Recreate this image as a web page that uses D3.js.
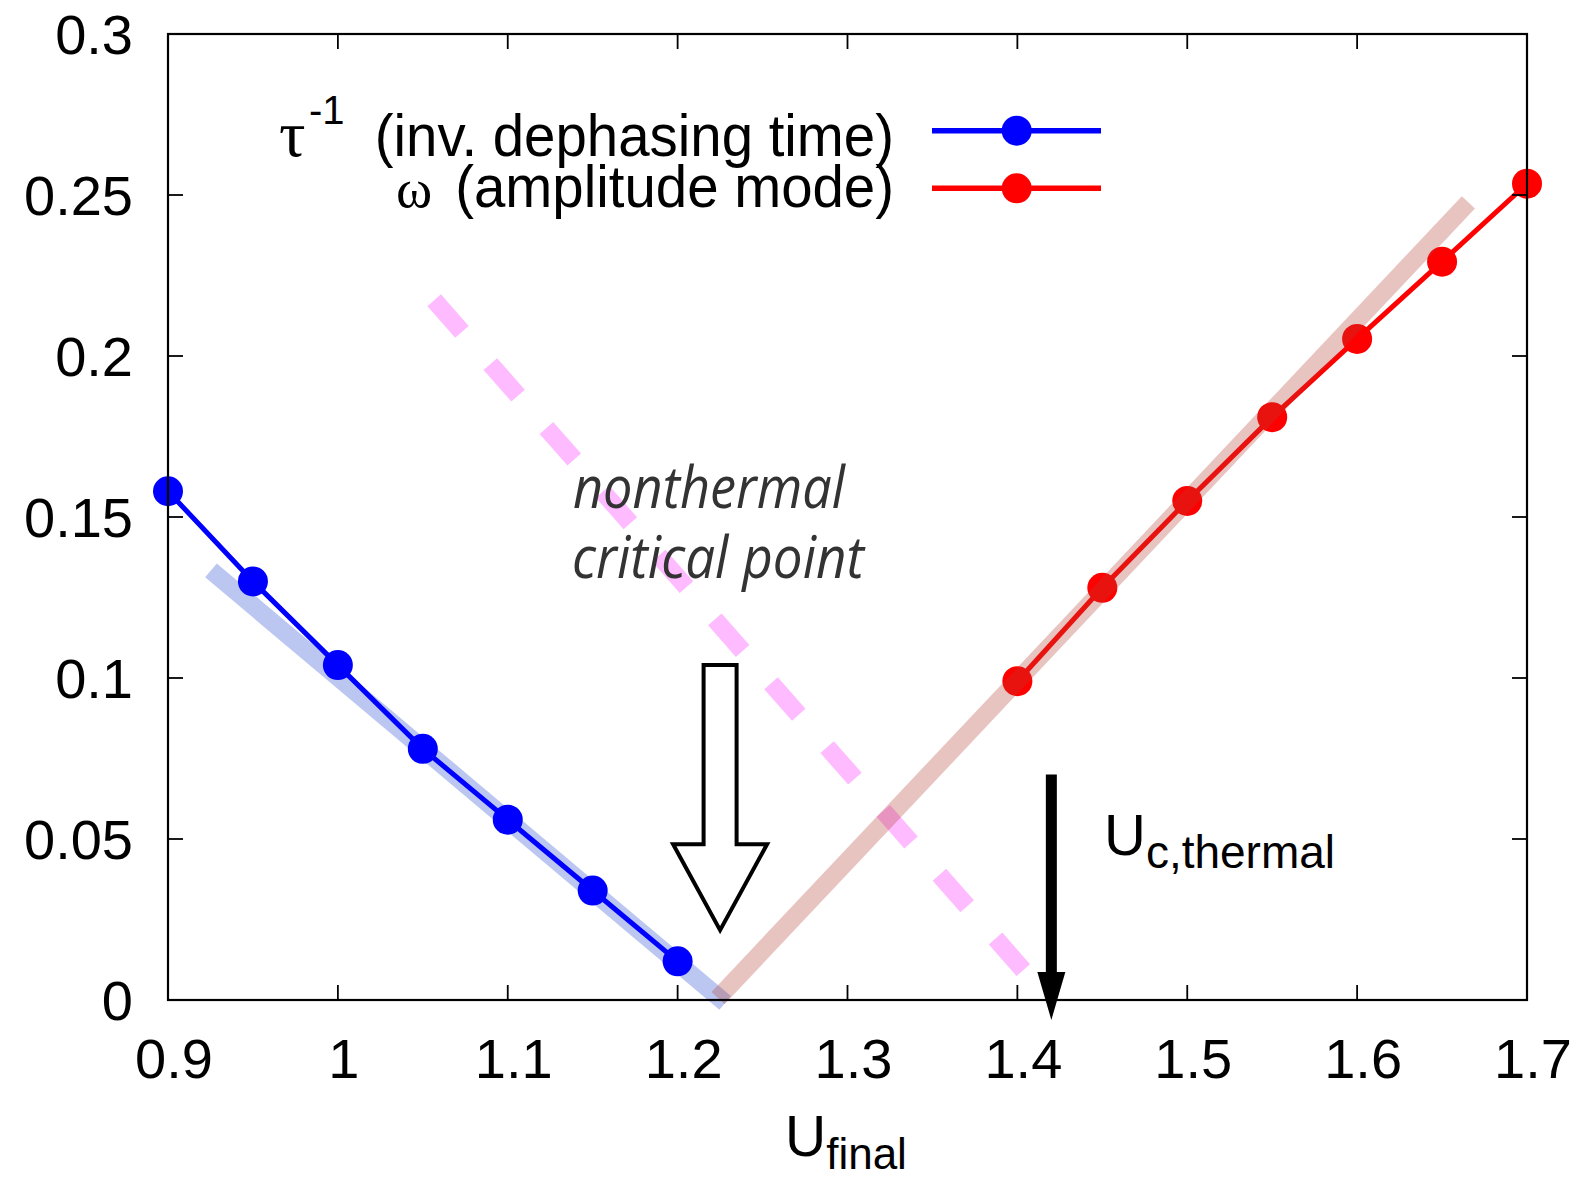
<!DOCTYPE html>
<html>
<head>
<meta charset="utf-8">
<script src="https://cdn.jsdelivr.net/npm/d3@7"></script>
<style>
  html, body { margin: 0; padding: 0; background: #fff; }
  svg { display: block; }
</style>
</head>
<body>
<svg id="chart" width="1584" height="1178"></svg>
<script>
// Inverse dephasing time (blue) and amplitude-mode frequency (red) versus U_final
const uDephasing = [0.9, 0.95, 1.0, 1.05, 1.1, 1.15, 1.2];
const tauInverse = [0.158, 0.130, 0.104, 0.078, 0.056, 0.034, 0.012];

const uAmplitude = [1.4, 1.45, 1.5, 1.55, 1.6, 1.65, 1.7];
const omegaAmp   = [0.099, 0.128, 0.155, 0.181, 0.2053, 0.2293, 0.2535];

// Linear guide lines (two end points each)
const fitBlueU = [0.9253, 1.228];
const fitBlueV = [0.1334, -0.0009];
const fitRedU  = [1.2238, 1.6655];
const fitRedV  = [0.0006, 0.2477];
const guidePinkU = [1.0567, 1.4048];
const guidePinkV = [0.2173, 0.0085];

// Axis ticks
const xTickValues = [0.9, 1.0, 1.1, 1.2, 1.3, 1.4, 1.5, 1.6, 1.7];
const xTickLabels = ["0.9", "1", "1.1", "1.2", "1.3", "1.4", "1.5", "1.6", "1.7"];
const yTickValues = [0, 0.05, 0.1, 0.15, 0.2, 0.25, 0.3];
const yTickLabels = ["0", "0.05", "0.1", "0.15", "0.2", "0.25", "0.3"];

// Annotation anchors (data units)
const criticalArrowU = 1.225, criticalArrowTop = 0.104, criticalArrowHead = 0.0484, criticalArrowTip = 0.0217;
const thermalArrowU = 1.42, thermalArrowTop = 0.07, thermalArrowTip = -0.0062;

const svg = d3.select("#chart");
const W = 1584, H = 1178;
const mLeft = 168, mRight = 1527, mTop = 34, mBottom = 1000;

const x = d3.scaleLinear().domain([0.9, 1.7]).range([mLeft, mRight]);
const y = d3.scaleLinear().domain([0, 0.3]).range([mBottom, mTop]);

svg.append("rect").attr("width", W).attr("height", H).attr("fill", "#fff");

const sans = "'Liberation Sans', Arial, Helvetica, sans-serif";
const serif = "'Liberation Serif', 'Times New Roman', serif";

const plot = svg.append("g");

// Dashed pink guide
plot.append("line")
  .attr("x1", x(guidePinkU[0])).attr("y1", y(guidePinkV[0]))
  .attr("x2", x(guidePinkU[1])).attr("y2", y(guidePinkV[1]))
  .attr("stroke", "#ffbbff").attr("stroke-width", 18)
  .attr("stroke-dasharray", "42 43");

// Blue guide band
plot.append("line")
  .attr("x1", x(fitBlueU[0])).attr("y1", y(fitBlueV[0]))
  .attr("x2", x(fitBlueU[1])).attr("y2", y(fitBlueV[1]))
  .attr("stroke", "rgb(30,70,210)").attr("stroke-opacity", 0.3).attr("stroke-width", 18);

const line = d3.line().x(d => x(d[0])).y(d => y(d[1]));

function series(us, vs, color) {
  const pts = us.map((u, i) => [u, vs[i]]);
  plot.append("path").datum(pts)
    .attr("d", line).attr("fill", "none")
    .attr("stroke", color).attr("stroke-width", 5);
  plot.selectAll(null).data(pts).enter().append("circle")
    .attr("cx", d => x(d[0])).attr("cy", d => y(d[1])).attr("r", 15)
    .attr("fill", color);
}
series(uDephasing, tauInverse, "#0000ff");
series(uAmplitude, omegaAmp, "#ff0000");

// Red guide band (translucent, above the red series)
plot.append("line")
  .attr("x1", x(fitRedU[0])).attr("y1", y(fitRedV[0]))
  .attr("x2", x(fitRedU[1])).attr("y2", y(fitRedV[1]))
  .attr("stroke", "rgb(180,60,50)").attr("stroke-opacity", 0.3).attr("stroke-width", 18);

// Hollow arrow marking the nonthermal critical point
{
  const cx = x(criticalArrowU), yt = y(criticalArrowTop), yh = y(criticalArrowHead), yp = y(criticalArrowTip);
  const sw = 16.5, hw = 47;
  const p = d3.path();
  p.moveTo(cx - sw, yt); p.lineTo(cx + sw, yt); p.lineTo(cx + sw, yh);
  p.lineTo(cx + hw, yh); p.lineTo(cx, yp); p.lineTo(cx - hw, yh);
  p.lineTo(cx - sw, yh); p.closePath();
  plot.append("path").attr("d", p.toString())
    .attr("fill", "none").attr("stroke", "#000").attr("stroke-width", 4)
    .attr("stroke-linejoin", "miter");
}

// Solid arrow marking U_c,thermal
{
  const cx = x(thermalArrowU), yt = y(thermalArrowTop), yp = y(thermalArrowTip);
  const headLen = 48, hw = 14;
  plot.append("line").attr("x1", cx).attr("x2", cx)
    .attr("y1", yt).attr("y2", yp - headLen + 2)
    .attr("stroke", "#000").attr("stroke-width", 11);
  plot.append("path")
    .attr("d", `M${cx - hw},${yp - headLen}L${cx + hw},${yp - headLen}L${cx},${yp}Z`)
    .attr("fill", "#000");
}

// Annotation texts
const note = svg.append("g").attr("font-family", "'Open Sans', 'Noto Sans', sans-serif")
  .attr("font-style", "italic").attr("font-size", 59).attr("fill", "#333");
note.append("text").attr("x", 573).attr("y", 508)
  .attr("textLength", 272).attr("lengthAdjust", "spacingAndGlyphs").text("nonthermal");
note.append("text").attr("x", 572).attr("y", 578)
  .attr("textLength", 292).attr("lengthAdjust", "spacingAndGlyphs").text("critical point");

const uc = svg.append("text").attr("x", 1104).attr("y", 855)
  .attr("font-family", sans).attr("font-size", 58).attr("fill", "#000");
uc.append("tspan").text("U");
uc.append("tspan").attr("font-size", 46).attr("dy", 13).text("c,thermal");

// Frame ticks (all four sides, pointing inward)
const tickLen = 15;
const axes = svg.append("g").attr("stroke", "#000").attr("stroke-width", 1.8);
xTickValues.forEach(v => {
  axes.append("line").attr("x1", x(v)).attr("x2", x(v)).attr("y1", mBottom).attr("y2", mBottom - tickLen);
  axes.append("line").attr("x1", x(v)).attr("x2", x(v)).attr("y1", mTop).attr("y2", mTop + tickLen);
});
yTickValues.forEach(v => {
  axes.append("line").attr("x1", mLeft).attr("x2", mLeft + tickLen).attr("y1", y(v)).attr("y2", y(v));
  axes.append("line").attr("x1", mRight).attr("x2", mRight - tickLen).attr("y1", y(v)).attr("y2", y(v));
});
svg.append("rect").attr("x", mLeft).attr("y", mTop)
  .attr("width", mRight - mLeft).attr("height", mBottom - mTop)
  .attr("fill", "none").attr("stroke", "#000").attr("stroke-width", 2.2);

// Tick labels
const xl = svg.append("g").attr("font-family", sans).attr("font-size", 56).attr("text-anchor", "middle");
xTickValues.forEach((v, i) => {
  xl.append("text").attr("x", x(v) + 6).attr("y", 1078).text(xTickLabels[i]);
});
const yl = svg.append("g").attr("font-family", sans).attr("font-size", 56).attr("text-anchor", "end");
yTickValues.forEach((v, i) => {
  yl.append("text").attr("x", 133).attr("y", y(v) + 20).text(yTickLabels[i]);
});

// Axis title
const xt = svg.append("text").attr("x", 785).attr("y", 1156)
  .attr("font-family", sans).attr("font-size", 57);
xt.append("tspan").text("U");
xt.append("tspan").attr("font-size", 44).attr("dy", 13).text("final");

// Legend
const legend = svg.append("g");
const legendRows = [
  { y: 130.7, base: 156, color: "#0000ff", sym: "τ", symSize: 66, symX: 279, sup: "-1", text: "(inv. dephasing time)" },
  { y: 188.3, base: 207, color: "#ff0000", sym: "ω", symSize: 55, symX: 396, sup: null, text: "(amplitude mode)" }
];
legendRows.forEach(r => {
  legend.append("line").attr("x1", 932).attr("x2", 1101).attr("y1", r.y).attr("y2", r.y)
    .attr("stroke", r.color).attr("stroke-width", 5.5);
  legend.append("circle").attr("cx", 1016.7).attr("cy", r.y).attr("r", 15).attr("fill", r.color);
  legend.append("text")
    .attr("transform", `translate(894,${r.base}) scale(0.94,1)`)
    .attr("text-anchor", "end").attr("font-family", sans).attr("font-size", 60)
    .text(r.text);
  legend.append("text").attr("x", r.symX).attr("y", r.base)
    .attr("font-family", serif).attr("font-size", r.symSize).text(r.sym);
  if (r.sup) {
    legend.append("text").attr("x", 309).attr("y", 124)
      .attr("font-family", sans).attr("font-size", 40).text(r.sup);
  }
});
</script>
</body>
</html>
